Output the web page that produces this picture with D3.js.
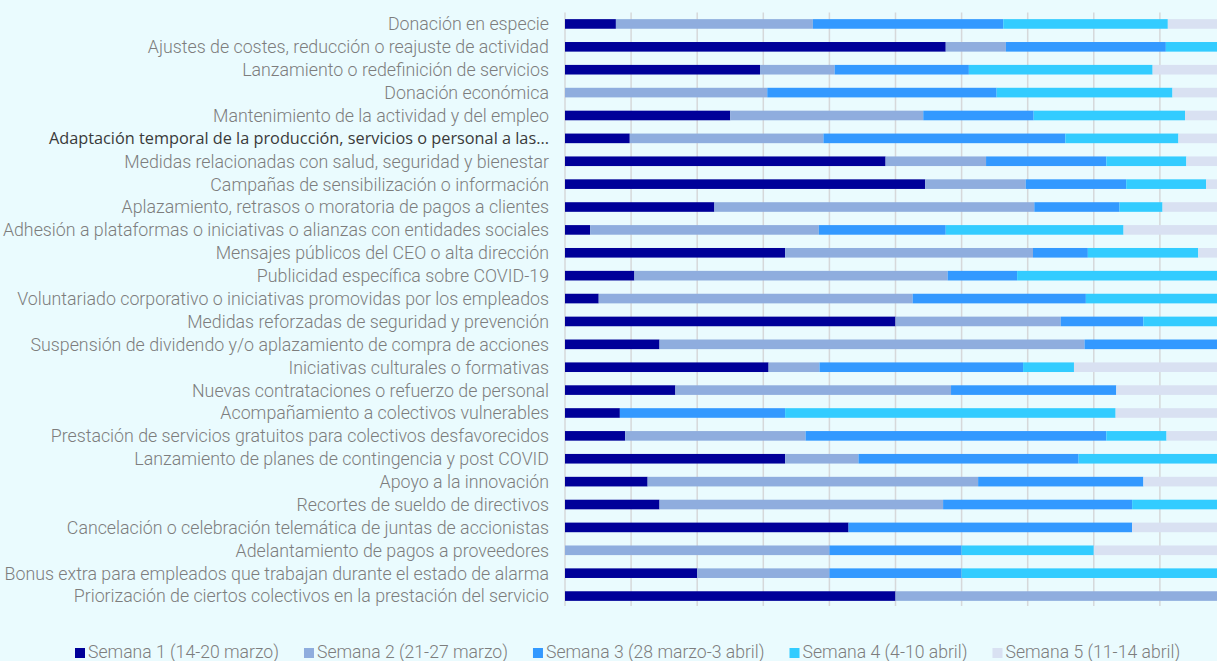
<!DOCTYPE html>
<html lang="es">
<head>
    <meta charset="UTF-8">
    <title>Acciones por semana</title>
    <script src="https://d3js.org/d3.v7.min.js"></script>
    <style>
      html, body { margin: 0; padding: 0; background: #EAFBFE; }
      svg { display: block; }
    </style>
</head>
<body>
    <svg id="chart" width="1217" height="661"></svg>
<script>
  // Data
  var categories = [
    "Donación en especie",
    "Ajustes de costes, reducción o reajuste de actividad",
    "Lanzamiento o redefinición de servicios",
    "Donación económica",
    "Mantenimiento de la actividad y del empleo",
    "Adaptación temporal de la producción, servicios o personal a las...",
    "Medidas relacionadas con salud, seguridad y bienestar",
    "Campañas de sensibilización o información",
    "Aplazamiento, retrasos o moratoria de pagos a clientes",
    "Adhesión a plataformas o iniciativas o alianzas con entidades sociales",
    "Mensajes públicos del CEO o alta dirección",
    "Publicidad específica sobre COVID-19",
    "Voluntariado corporativo o iniciativas promovidas por los empleados",
    "Medidas reforzadas de seguridad y prevención",
    "Suspensión de dividendo y/o aplazamiento de compra de acciones",
    "Iniciativas culturales o formativas",
    "Nuevas contrataciones o refuerzo de personal",
    "Acompañamiento a colectivos vulnerables",
    "Prestación de servicios gratuitos para colectivos desfavorecidos",
    "Lanzamiento de planes de contingencia y post COVID",
    "Apoyo a la innovación",
    "Recortes de sueldo de directivos",
    "Cancelación o celebración telemática de juntas de accionistas",
    "Adelantamiento de pagos a proveedores",
    "Bonus extra para empleados que trabajan durante el estado de alarma",
    "Priorización de ciertos colectivos en la prestación del servicio"
  ];

  var semana1 = [7.7, 57.6, 29.5, 0, 25.0, 9.8, 48.5, 54.5, 22.6, 3.8, 33.3, 10.5, 5.1, 50.0, 14.3, 30.8, 16.7, 8.3, 9.1, 33.3, 12.5, 14.3, 42.9, 0, 20, 50];
  var semana2 = [29.8, 9.1, 11.3, 30.6, 29.2, 29.3, 15.2, 15.2, 48.4, 34.6, 37.5, 47.4, 47.5, 25.0, 64.3, 7.7, 41.7, 0, 27.3, 11.1, 50, 42.9, 0, 40, 20, 50];
  var semana3 = [28.8, 24.2, 20.3, 34.7, 16.7, 36.6, 18.2, 15.2, 12.9, 19.2, 8.3, 10.5, 26.2, 12.5, 21.4, 30.8, 25.0, 25.0, 45.5, 33.3, 25, 28.6, 42.9, 20, 20, 0];
  var semana4 = [24.9, 9.1, 27.8, 26.6, 22.9, 17.1, 12.1, 12.1, 6.5, 26.9, 16.7, 31.6, 21.2, 12.5, 0, 7.7, 0, 50.0, 9.1, 22.2, 0, 14.3, 0, 20, 40, 0];
  var semana5 = [8.8, 0, 11.1, 8.1, 6.2, 7.3, 6.1, 3.0, 9.7, 15.4, 4.2, 0, 0, 0, 0, 23.1, 16.7, 16.7, 9.1, 0, 12.5, 0, 14.3, 20, 0, 0];

  var seriesNames = [
    "Semana 1 (14-20 marzo)",
    "Semana 2 (21-27 marzo)",
    "Semana 3 (28 marzo-3 abril)",
    "Semana 4 (4-10 abril)",
    "Semana 5 (11-14 abril)"
  ];
  var colors = ["#000099", "#8FADDE", "#3399FF", "#33CCFF", "#D9E1F2"];
  var ticks = [0, 10, 20, 30, 40, 50, 60, 70, 80, 90, 100];

  // table for d3.stack
  var allSeries = [semana1, semana2, semana3, semana4, semana5];
  var table = categories.map(function(c, i) {
    var row = { cat: c };
    seriesNames.forEach(function(s, j) { row[s] = allSeries[j][i]; });
    return row;
  });

  var svg = d3.select("#chart");

  // Scales (the plot runs past the right edge of the picture)
  var x = d3.scaleLinear().domain([0, 100]).range([565, 1226]);
  var y = d3.scaleBand()
    .domain(categories)
    .range([12.5, 607.5])
    .paddingInner(0.58)
    .paddingOuter(0.29);

  // gridlines
  svg.append("g")
    .selectAll("line")
    .data(ticks)
    .enter()
    .append("line")
      .attr("x1", function(d) { return x(d); })
      .attr("x2", function(d) { return x(d); })
      .attr("y1", 12.5)
      .attr("y2", 606)
      .attr("stroke", "#D6D8DA")
      .attr("stroke-width", 1.5);

  // stacked bars
  var stacked = d3.stack().keys(seriesNames)(table);

  svg.append("g")
    .selectAll("g")
    .data(stacked)
    .enter()
    .append("g")
      .attr("fill", function(d, i) { return colors[i]; })
    .selectAll("rect")
    .data(function(d) { return d; })
    .enter()
    .append("rect")
      .attr("x", function(d) { return x(d[0]); })
      .attr("y", function(d) { return y(d.data.cat); })
      .attr("width", function(d) { return Math.max(0, x(d[1]) - x(d[0])); })
      .attr("height", y.bandwidth());

  // category labels (the 6th one is shown truncated, darker, other font)
  svg.append("g")
    .selectAll("text")
    .data(categories)
    .enter()
    .append("text")
      .attr("x", 549)
      .attr("y", function(d) { return y(d) + y.bandwidth() / 2; })
      .attr("dy", "0.36em")
      .attr("text-anchor", "end")
      .style("font-family", function(d, i) { return i == 5 ? "'Open Sans', sans-serif" : "Roboto, sans-serif"; })
      .style("font-weight", function(d, i) { return i == 5 ? 400 : 300; })
      .style("font-size", function(d, i) { return i == 5 ? "16.3px" : "17.8px"; })
      .style("fill", function(d, i) { return i == 5 ? "#3a3a3a" : "#7d7d7d"; })
      .text(function(d) { return d; });

  // legend
  var legend = svg.append("g").attr("transform", "translate(75,652)");
  var lx = 0;
  seriesNames.forEach(function(s, i) {
    var item = legend.append("g").attr("transform", "translate(" + lx + ",0)");
    item.append("rect")
      .attr("x", 0).attr("y", -4)
      .attr("width", 10).attr("height", 10)
      .attr("fill", colors[i]);
    var t = item.append("text")
      .attr("x", 13)
      .attr("dy", "0.36em")
      .style("font-family", "Roboto, sans-serif")
      .style("font-weight", 300)
      .style("font-size", "17.6px")
      .style("fill", "#7d7d7d")
      .text(s);
    lx += 13 + t.node().getComputedTextLength() + 25;
  });
</script>
</body>
</html>
